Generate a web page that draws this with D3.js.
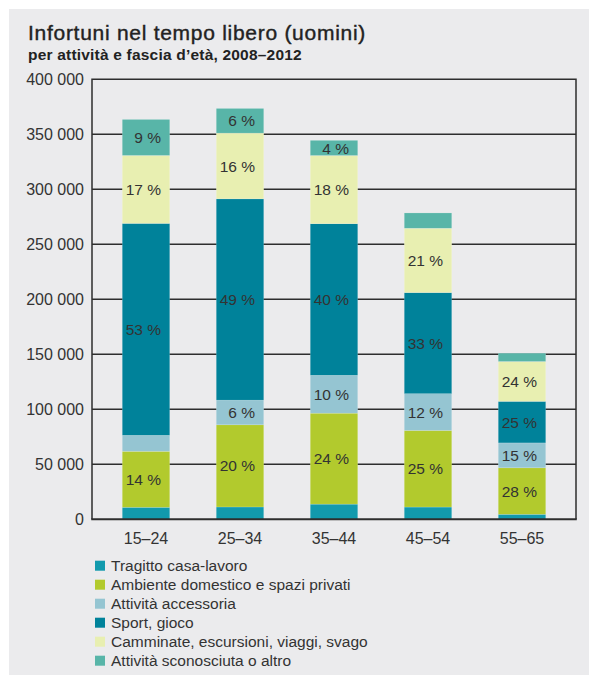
<!DOCTYPE html>
<html>
<head>
<meta charset="utf-8">
<script src="https://cdn.jsdelivr.net/npm/d3@7"></script>
<style>
  html, body { margin: 0; padding: 0; background: #ffffff; }
  svg { display: block; }
  text { font-family: "Liberation Sans", Arial, Helvetica, sans-serif; }
</style>
</head>
<body>
<svg id="chart" width="589" height="675"></svg>
<script>
// Age groups on the x axis
const ageGroups = ["15–24", "25–34", "35–44", "45–54", "55–65"];

// Total leisure accidents (men) per age group, 2008–2012
const totals = [363500, 373500, 344500, 278500, 151000];

// Share of each activity in every age group (percent)
const pctTragitto   = [3, 3, 4, 4, 3];
const pctAmbiente   = [14, 20, 24, 25, 28];
const pctAccessoria = [4, 6, 10, 12, 15];
const pctSport      = [53, 49, 40, 33, 25];
const pctCamminate  = [17, 16, 18, 21, 24];
const pctAltro      = [9, 6, 4, 5, 5];

// Which segments carry a printed percentage
const showTragitto   = [false, false, false, false, false];
const showAmbiente   = [true, true, true, true, true];
const showAccessoria = [false, true, true, true, true];
const showSport      = [true, true, true, true, true];
const showCamminate  = [true, true, true, true, true];
const showAltro      = [true, true, true, false, false];

// Series names (legend order = stacking order from the bottom)
const seriesNames = [
  "Tragitto casa-lavoro",
  "Ambiente domestico e spazi privati",
  "Attività accessoria",
  "Sport, gioco",
  "Camminate, escursioni, viaggi, svago",
  "Attività sconosciuta o altro"
];
const seriesColors = ["#129aad", "#b2ca2d", "#95c5d2", "#00829a", "#e8efb1", "#58b5a8"];

// Y axis ticks
const yTicks = [0, 50000, 100000, 150000, 200000, 250000, 300000, 350000, 400000];

// ---- build a table for d3.stack ----
const pctBySeries = [pctTragitto, pctAmbiente, pctAccessoria, pctSport, pctCamminate, pctAltro];
const showBySeries = [showTragitto, showAmbiente, showAccessoria, showSport, showCamminate, showAltro];
const table = ageGroups.map((g, i) => {
  const row = { group: g };
  seriesNames.forEach((s, k) => { row[s] = totals[i] * pctBySeries[k][i] / 100; });
  return row;
});
const stacked = d3.stack().keys(seriesNames)(table);

const svg = d3.select("#chart");

// panel background
svg.append("rect").attr("x", 9).attr("y", 9).attr("width", 580).attr("height", 666).attr("fill", "#ebebed");

// titles
svg.append("text").attr("x", 28).attr("y", 40)
  .attr("font-size", 21).attr("fill", "#222").attr("letter-spacing", 0.72)
  .attr("stroke", "#222").attr("stroke-width", 0.4)
  .text("Infortuni nel tempo libero (uomini)");
svg.append("text").attr("x", 28).attr("y", 60)
  .attr("font-size", 15.5).attr("fill", "#222").attr("font-weight", "bold")
  .attr("letter-spacing", 0.2)
  .text("per attività e fascia d’età, 2008–2012");

// plot area
const plotLeft = 92, plotRight = 576, plotTop = 79.3, plotBottom = 519.3;

const x = d3.scaleBand().domain(ageGroups).range([plotLeft, plotRight])
  .paddingInner(0.495).paddingOuter(0.322);
const y = d3.scaleLinear().domain([0, 400000]).range([plotBottom, plotTop]);

// gridlines (behind bars)
const grid = svg.append("g");
grid.selectAll("line").data(yTicks.filter(t => t > 0 && t < 400000)).join("line")
  .attr("x1", plotLeft).attr("x2", plotRight)
  .attr("y1", d => y(d)).attr("y2", d => y(d))
  .attr("stroke", "#2e2e2e").attr("stroke-width", 1.5);

// frame: top, right, left
svg.append("path")
  .attr("d", `M${plotLeft},${plotBottom} V${y(400000)} H${plotRight} V${plotBottom}`)
  .attr("fill", "none").attr("stroke", "#2e2e2e").attr("stroke-width", 1.5);

// stacked bars
const layers = svg.append("g").selectAll("g").data(stacked).join("g")
  .attr("fill", (d, k) => seriesColors[k]);
layers.selectAll("rect").data(d => d).join("rect")
  .attr("x", d => x(d.data.group))
  .attr("width", x.bandwidth())
  .attr("y", d => y(d[1]))
  .attr("height", d => y(d[0]) - y(d[1]))
  .attr("stroke", "rgba(255,255,255,0.25)").attr("stroke-width", 0.6);

// percentage labels
const labelG = svg.append("g");
stacked.forEach((layer, k) => {
  layer.forEach((d, i) => {
    if (!showBySeries[k][i]) return;
    labelG.append("text")
      .attr("x", x(d.data.group) + x.bandwidth() / 2 + 15)
      .attr("y", (y(d[0]) + y(d[1])) / 2)
      .attr("dy", "0.36em")
      .attr("text-anchor", "end")
      .attr("font-size", 15.5)
      .attr("fill", "#333")
      .text(pctBySeries[k][i] + " %");
  });
});

// bottom axis line
svg.append("line").attr("x1", plotLeft - 0.75).attr("x2", plotRight + 0.75)
  .attr("y1", plotBottom).attr("y2", plotBottom)
  .attr("stroke", "#2e2e2e").attr("stroke-width", 2);

// y tick labels
const fmt = v => d3.format(",")(v).replace(/,/g, " ");
svg.append("g").selectAll("text").data(yTicks).join("text")
  .attr("x", 84).attr("y", d => y(d)).attr("dy", "0.36em")
  .attr("text-anchor", "end").attr("font-size", 16).attr("fill", "#333")
  .text(d => fmt(d));

// x tick labels
svg.append("g").selectAll("text").data(ageGroups).join("text")
  .attr("x", d => x(d) + x.bandwidth() / 2).attr("y", 544)
  .attr("text-anchor", "middle").attr("font-size", 16).attr("fill", "#333")
  .text(d => d);

// legend
const legend = svg.append("g").selectAll("g").data(seriesNames).join("g")
  .attr("transform", (d, k) => `translate(95, ${560.7 + k * 19})`);
legend.append("rect").attr("width", 10).attr("height", 10)
  .attr("fill", (d, k) => seriesColors[k]);
legend.append("text").attr("x", 16).attr("y", 5).attr("dy", "0.36em")
  .attr("font-size", 15.5).attr("fill", "#333").text(d => d);
</script>
</body>
</html>
